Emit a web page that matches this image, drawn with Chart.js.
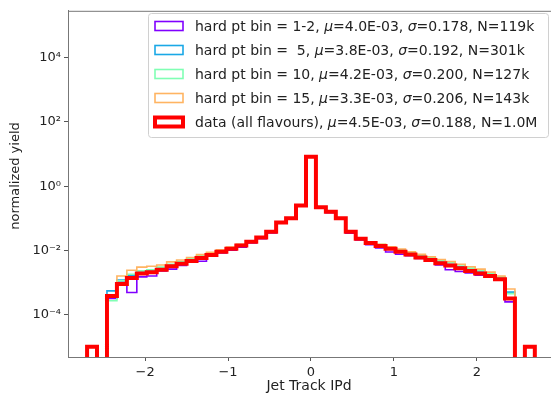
<!DOCTYPE html>
<html>
<head>
<meta charset="utf-8">
<script src="https://cdn.jsdelivr.net/npm/chart.js@4/dist/chart.umd.min.js"></script>
<style>
  html, body { margin: 0; padding: 0; background: #fff; }
  #wrap { width: 551px; height: 394px; position: relative; }
</style>
</head>
<body>
<div id="wrap"><canvas id="chart" width="551" height="394"></canvas></div>
<script>
// histogram binning: 45 bins of 0.12 from -2.7 to 2.7
const binStart = -2.7;
const binWidth = 0.12;

// normalized yield per bin
const hardPt12 = [0, 0, 3.2e-4, 1.05e-3, 4.9e-4, 1.5e-3, 1.6e-3, 2.3e-3, 2.6e-3, 3.4e-3,
  4.4e-3, 4.6e-3, 6.6e-3, 8.3e-3, 1.02e-2, 1.26e-2, 1.7e-2, 2.3e-2, 3.5e-2, 7.1e-2,
  9.5e-2, 0.24, 8.3, 0.22, 0.15, 0.093, 0.034, 0.021, 0.015, 0.012,
  0.0089, 0.0076, 0.0068, 0.0056, 0.0047, 0.0035, 0.0025, 0.0022, 0.0020, 0.0017,
  0.00145, 0.00117, 0.00025, 0, 0];
const hardPt5 = [0, 0, 5.5e-4, 1.2e-3, 1.66e-3, 2.1e-3, 2.3e-3, 2.8e-3, 3.5e-3, 4.2e-3,
  5.1e-3, 6.3e-3, 7.8e-3, 9.5e-3, 1.17e-2, 1.45e-2, 1.9e-2, 2.6e-2, 3.9e-2, 7.6e-2,
  0.102, 0.25, 8.1, 0.22, 0.16, 0.10, 0.039, 0.024, 0.018, 0.0145,
  0.0117, 0.0098, 0.0079, 0.0066, 0.0054, 0.0044, 0.0037, 0.0031, 0.0026, 0.0021,
  0.0017, 0.00138, 0.0005, 0, 0];
const hardPt10 = [0, 0, 2.7e-4, 1.12e-3, 1.8e-3, 2.3e-3, 2.5e-3, 3.0e-3, 3.7e-3, 4.5e-3,
  5.5e-3, 6.8e-3, 8.1e-3, 0.010, 0.0123, 0.0151, 0.0195, 0.026, 0.039, 0.076,
  0.102, 0.25, 8.1, 0.22, 0.162, 0.102, 0.040, 0.0245, 0.0186, 0.0151,
  0.0126, 0.0105, 0.0085, 0.0071, 0.0059, 0.0048, 0.0042, 0.0035, 0.0028, 0.0024,
  0.0019, 0.0015, 0.00045, 0, 0];
const hardPt15 = [0, 0, 3.5e-4, 1.6e-3, 2.4e-3, 3.0e-3, 3.2e-3, 3.5e-3, 4.4e-3, 5.0e-3,
  6.0e-3, 7.4e-3, 8.7e-3, 0.0105, 0.0126, 0.0155, 0.020, 0.026, 0.039, 0.076,
  0.102, 0.25, 8.1, 0.22, 0.162, 0.102, 0.040, 0.0245, 0.0186, 0.0155,
  0.0129, 0.011, 0.0091, 0.0076, 0.0063, 0.0052, 0.0045, 0.0037, 0.0031, 0.0026,
  0.0021, 0.0016, 0.00063, 0, 0];
const allFlavours = [1.0e-5, 0, 3.8e-4, 8.9e-4, 1.38e-3, 1.9e-3, 2.1e-3, 2.5e-3, 3.2e-3, 3.8e-3,
  4.7e-3, 5.8e-3, 7.2e-3, 9.1e-3, 1.12e-2, 1.41e-2, 1.86e-2, 2.5e-2, 3.8e-2, 7.4e-2,
  0.10, 0.25, 8.3, 0.22, 0.16, 0.10, 0.038, 0.023, 0.017, 0.0138,
  0.0112, 0.0091, 0.0074, 0.0060, 0.0050, 0.0040, 0.0034, 0.0028, 0.0023, 0.0019,
  0.0016, 0.00126, 0.00032, 0, 1.0e-5];

const seriesNames = [
  ['hard pt bin = 1-2, ', '=4.0E-03, ', '=0.178, N=119k'],
  ['hard pt bin =  5, ', '=3.8E-03, ', '=0.192, N=301k'],
  ['hard pt bin = 10, ', '=4.2E-03, ', '=0.200, N=127k'],
  ['hard pt bin = 15, ', '=3.3E-03, ', '=0.206, N=143k'],
  ['data (all flavours), ', '=4.5E-03, ', '=0.188, N=1.0M']
];
const seriesColors = ['#8000ff', '#1aa8e6', '#80ffb4', '#ffb462', '#ff0000'];
const seriesWidths = [1.6, 1.6, 1.6, 1.6, 4];

const xTicks = [-2, -1, 0, 1, 2];
const yTicks = [1e-4, 1e-2, 1, 1e2, 1e4];
const yTickLabels = ['10\u207B\u2074', '10\u207B\u00B2', '10\u2070', '10\u00B2', '10\u2074'];

const FONT = '"DejaVu Sans", sans-serif';
const yMin = Math.pow(10, -5.32);
const yMax = Math.pow(10, 5.46);

// turn bin contents into a closed step outline like histtype='step'
// empty bins go below the axis so the outline drops out of view
function stepPoints(values) {
  const floor = yMin / 100;
  const val = v => (v > 0 ? v : floor);
  const pts = [{ x: binStart, y: floor }];
  values.forEach((v, i) => {
    pts.push({ x: binStart + i * binWidth, y: val(v) });
  });
  const end = binStart + values.length * binWidth;
  pts.push({ x: end, y: val(values[values.length - 1]) });
  pts.push({ x: end, y: floor });
  return pts;
}

const allSeries = [hardPt12, hardPt5, hardPt10, hardPt15, allFlavours];

const datasets = allSeries.map((vals, i) => ({
  label: seriesNames[i].join(''),
  data: stepPoints(vals),
  borderColor: seriesColors[i],
  borderWidth: seriesWidths[i],
  stepped: 'before',
  fill: false,
  pointRadius: 0,
  order: allSeries.length - 1 - i
}));

// frame on top, axis titles, custom legend with italic greek letters
const frameAndLegend = {
  id: 'frameAndLegend',
  afterDatasetsDraw(chart) {
    const ctx = chart.ctx;
    const a = chart.chartArea;
    ctx.save();
    ctx.strokeStyle = '#777';
    ctx.lineWidth = 1;
    ctx.beginPath();
    ctx.moveTo(a.left, a.top + 0.5);
    ctx.lineTo(a.right + 2, a.top + 0.5);
    ctx.stroke();

    ctx.fillStyle = '#222';
    ctx.textAlign = 'center';
    ctx.textBaseline = 'middle';
    ctx.font = '14px ' + FONT;
    ctx.fillText('Jet Track IPd', 309, 386);

    ctx.save();
    ctx.translate(16, 176);
    ctx.rotate(-Math.PI / 2);
    ctx.font = '13px ' + FONT;
    ctx.fillText('normalized yield', 0, 0);
    ctx.restore();

    // legend box
    const bx = 148, by = 13, bw = 400, bh = 124;
    ctx.fillStyle = 'rgba(255,255,255,0.85)';
    ctx.strokeStyle = '#d0d0d0';
    ctx.beginPath();
    ctx.roundRect(bx + 0.5, by + 0.5, bw, bh, 3);
    ctx.fill();
    ctx.stroke();

    ctx.textAlign = 'left';
    seriesNames.forEach((parts, i) => {
      const cy = 26 + i * 24;
      ctx.strokeStyle = seriesColors[i];
      ctx.lineWidth = seriesWidths[i];
      ctx.strokeRect(155, cy - 4.5, 28, 9);

      let x = 195;
      ctx.fillStyle = '#222';
      const pieces = [
        [parts[0], 'normal'], ['\u03BC', 'italic'], [parts[1], 'normal'],
        ['\u03C3', 'italic'], [parts[2], 'normal']
      ];
      pieces.forEach(([t, style]) => {
        ctx.font = style + ' 14px ' + FONT;
        ctx.fillText(t, x, cy + 1);
        x += ctx.measureText(t).width;
      });
    });
    ctx.restore();
  }
};

new Chart(document.getElementById('chart'), {
  type: 'line',
  data: { datasets },
  plugins: [frameAndLegend],
  options: {
    responsive: false,
    animation: false,
    layout: { padding: { top: 5, right: 0, left: 0, bottom: 0 } },
    plugins: {
      legend: { display: false },
      tooltip: { enabled: false }
    },
    scales: {
      x: {
        type: 'linear',
        min: -2.93,
        max: 2.895,
        afterFit: s => { s.height = 37; },
        afterBuildTicks: s => { s.ticks = xTicks.map(v => ({ value: v })); },
        grid: { display: true, drawOnChartArea: false, tickLength: 4, tickColor: '#555' },
        border: { display: true, color: '#777', width: 1 },
        ticks: {
          color: '#222',
          padding: 4,
          maxRotation: 0,
          font: { family: FONT, size: 13 },
          callback: v => (v < 0 ? '\u2212' + Math.abs(v) : String(v))
        }
      },
      y: {
        type: 'logarithmic',
        min: yMin,
        max: yMax,
        afterFit: s => { s.width = 68; },
        afterBuildTicks: s => { s.ticks = yTicks.map(v => ({ value: v })); },
        grid: { display: true, drawOnChartArea: false, tickLength: 4, tickColor: '#555' },
        border: { display: true, color: '#777', width: 1 },
        ticks: {
          color: '#222',
          padding: 3,
          font: { family: FONT, size: 13 },
          callback: v => {
            const i = yTicks.findIndex(t => Math.abs(Math.log10(t) - Math.log10(v)) < 1e-6);
            return i >= 0 ? yTickLabels[i] : '';
          }
        }
      }
    }
  }
});
</script>
</body>
</html>
